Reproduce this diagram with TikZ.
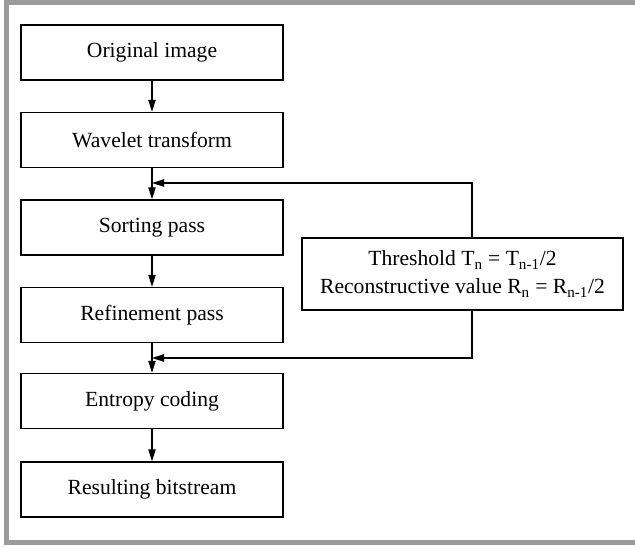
\documentclass[tikz,border=0pt]{standalone}
\usepackage{fontspec}
\setmainfont{Liberation Serif}
\usetikzlibrary{arrows.meta}
\definecolor{frame_gray}{RGB}{155,155,155}

\begin{document}
\begin{tikzpicture}[x=0.75pt,y=-0.75pt,line width=1.1pt,>={Triangle[length=9pt,width=5.5pt]}]
    \tikzstyle{box}=[draw=black, rectangle, minimum width=196.5pt, minimum height=41.25pt, inner sep=0pt, fill=white, text=black, font=\fontsize{16.2}{19}\selectfont]
    \tikzstyle{fbbox}=[style=box, minimum width=240.75pt, minimum height=54pt, align=center, font=\fontsize{16.2}{21}\selectfont]
    \tikzstyle{flow}=[->, draw=black]

    \useasboundingbox (0,0) rectangle (635,547);
    \clip (0,0) rectangle (635,547);
    \draw[frame_gray, line width=3.75pt] (6.5,2.5) rectangle (660,542);

    \node[box] (orig)  at (152,52.5)  {Original image};
    \node[box] (wave)  at (152,140)   {Wavelet transform};
    \node[box] (sort)  at (152,227.5) {Sorting pass};
    \node[box] (refi)  at (152,315)   {Refinement pass};
    \node[box] (entr)  at (152,401)   {Entropy coding};
    \node[box] (bits)  at (152,489.5) {Resulting bitstream};
    \node[fbbox] (thr) at (462.5,274)
      {Threshold T\textsubscript{n} = T\textsubscript{n-1}/2\\
       Reconstructive value R\textsubscript{n} = R\textsubscript{n-1}/2};

    \coordinate (jtop) at (152,183);
    \coordinate (jbot) at (152,358);
    \coordinate (rx)   at (472,0);

    \path
     (orig) edge[flow] (wave)
     (wave) edge[flow] (sort)
     (sort) edge[flow] (refi)
     (refi) edge[flow] (entr)
     (entr) edge[flow] (bits)
     ;
    \draw[flow] (thr.north -| rx) |- (jtop);
    \draw[flow] (thr.south -| rx) |- (jbot);
  \end{tikzpicture}
\end{document}
